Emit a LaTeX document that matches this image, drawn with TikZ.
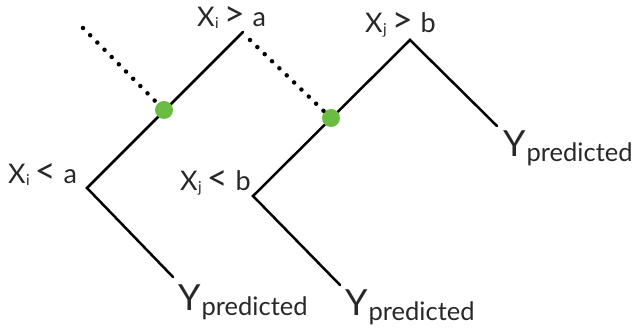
\documentclass[tikz,border=0pt]{standalone}
\usepackage{fontspec}
\setmainfont{Lato}
\definecolor{dotgreen}{RGB}{106,188,66}
\definecolor{txt}{RGB}{40,40,40}
\newcommand\xlab[3]{X\kern0.5pt\raisebox{-2pt}{\fontsize{15}{15}\selectfont #1}\kern5pt{\fontsize{36}{36}\selectfont #2}\kern8pt#3}
\newcommand\ylab{{\fontsize{36}{36}\selectfont Y}\kern1pt\raisebox{-5pt}{\fontsize{25.5}{25.5}\selectfont predicted}}
\begin{document}
\begin{tikzpicture}[x=1pt,y=-1pt,
  branch/.style={line width=2.5pt,black,line cap=round,line join=miter},
  dots/.style={line width=4.5pt,black,line cap=round,dash pattern=on 0pt off 10.2pt},
  split/.style={circle,fill=dotgreen,minimum size=18pt,inner sep=0pt},
  lab/.style={anchor=base west,inner sep=0pt,text=txt,font=\fontsize{27}{27}\selectfont}]
\useasboundingbox (0,0) rectangle (637,334);
% tree 1
\coordinate (a1) at (243,32);
\coordinate (v1) at (87,188);
\coordinate (l1) at (173,277);
% tree 2
\coordinate (a2) at (410,40);
\coordinate (v2) at (253,196);
\coordinate (l2) at (340,285);
\coordinate (r2) at (497,126);
% dotted starts
\coordinate (d1) at (83,28);
\coordinate (d2) at (250,40);
\draw[branch] (a1) -- (v1) -- (l1);
\draw[branch] (r2) -- (a2) -- (v2) -- (l2);
\node[split] (g1) at (164,110) {};
\node[split] (g2) at (331,118) {};
\draw[dots] (d1) -- (g1);
\draw[dots] (d2) -- (g2);
\node[lab] (t1) at (197,27) {\xlab{i}{>}{a}};
\node[lab] (t2) at (365,33) {\xlab{j}{>}{b}};
\node[lab] (t3) at (8,183) {\xlab{i}{<}{a}};
\node[lab] (t4) at (180,190) {\xlab{j}{<}{b}};
\node[lab] (y1) at (178,310) {\ylab};
\node[lab] (y2) at (345,315) {\ylab};
\node[lab] (y3) at (503,157) {\ylab};
\end{tikzpicture}
\end{document}
